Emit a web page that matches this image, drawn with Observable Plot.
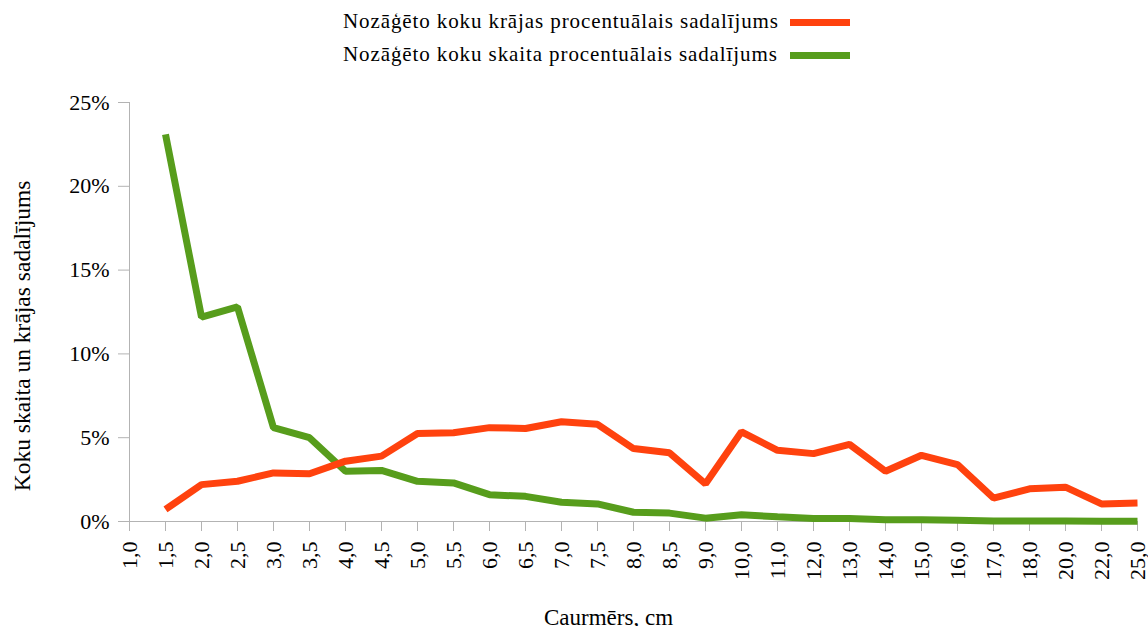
<!DOCTYPE html>
<html>
<head>
<meta charset="utf-8">
<script src="https://cdn.jsdelivr.net/npm/d3@7"></script>
<script src="https://cdn.jsdelivr.net/npm/@observablehq/plot@0.6"></script>
<style>
  html, body { margin: 0; padding: 0; background: #fff; }
  #wrap { position: relative; width: 1148px; height: 626px; overflow: hidden; font-family: "Liberation Serif", serif; }
  #legend { position: relative; height: 80px; }
  .lg-text { position: absolute; left: 343px; font-size: 21px; letter-spacing: 0.9px; color: #000; white-space: nowrap; line-height: 1; }
  .lg-sw { position: absolute; left: 790px; width: 60px; height: 7px; }
  #chart svg text { font-family: "Liberation Serif", serif; }
</style>
</head>
<body>
<div id="wrap">
  <div id="legend"></div>
  <div id="chart"></div>
</div>
<script>
const categories = ["1,0","1,5","2,0","2,5","3,0","3,5","4,0","4,5","5,0","5,5","6,0","6,5","7,0","7,5","8,0","8,5","9,0","10,0","11,0","12,0","13,0","14,0","15,0","16,0","17,0","18,0","20,0","22,0","25,0"];
const stockShare = [null,0.72,2.2,2.4,2.9,2.85,3.6,3.9,5.25,5.3,5.6,5.55,5.95,5.8,4.35,4.1,2.25,5.35,4.25,4.05,4.6,3.0,3.95,3.4,1.4,1.95,2.05,1.05,1.1];
const countShare = [null,23.1,12.2,12.8,5.6,5.0,3.0,3.05,2.4,2.3,1.6,1.5,1.15,1.05,0.55,0.5,0.2,0.4,0.28,0.18,0.18,0.1,0.1,0.07,0.03,0.03,0.03,0.01,0.01];
const yTicks = [0,5,10,15,20,25];
const seriesNames = ["Nozāģēto koku krājas procentuālais sadalījums","Nozāģēto koku skaita procentuālais sadalījums"];
const seriesColors = ["#ff420e","#579d1c"];
const xTitle = "Caurmērs, cm";
const yTitle = "Koku skaita un krājas sadalījums";

// legend
const legend = document.getElementById("legend");
seriesNames.forEach((name, i) => {
  const t = document.createElement("div");
  t.className = "lg-text";
  t.style.top = (11 + i * 33) + "px";
  t.textContent = name;
  legend.appendChild(t);
  const s = document.createElement("div");
  s.className = "lg-sw";
  s.style.top = (19 + i * 33) + "px";
  s.style.background = seriesColors[i];
  legend.appendChild(s);
});

const rows1 = categories.map((c, i) => ({cat: c, v: stockShare[i]}));
const rows2 = categories.map((c, i) => ({cat: c, v: countShare[i]}));

const grey = "#b3b3b3";
const ff = "Liberation Serif";
const chart = Plot.plot({
  width: 1148,
  height: 546,
  marginLeft: 129,
  marginRight: 11,
  marginTop: 22,
  marginBottom: 105,
  style: {fontFamily: ff, fontSize: "22px", color: "#000", background: "#fff", overflow: "visible"},
  x: {type: "point", domain: categories, padding: 0},
  y: {domain: [0, 25]},
  marks: [
    Plot.ruleY([0], {stroke: grey, strokeWidth: 1}),
    Plot.ruleX([categories[0]], {stroke: grey, strokeWidth: 1}),
    Plot.axisY({ticks: yTicks, tickFormat: d => d + "%", tickSize: 11, tickPadding: 9, stroke: grey, label: null, fontSize: 22, fontFamily: ff}),
    Plot.axisX({tickRotate: -90, tickSize: 10, tickPadding: 10, stroke: grey, label: null, fontSize: 22, fontFamily: ff}),
    Plot.line(rows2, {x: "cat", y: "v", stroke: seriesColors[1], strokeWidth: 7, strokeLinejoin: "miter", strokeLinecap: "butt"}),
    Plot.line(rows1, {x: "cat", y: "v", stroke: seriesColors[0], strokeWidth: 7, strokeLinejoin: "miter", strokeLinecap: "butt"}),
    Plot.text([xTitle], {frameAnchor: "bottom", textAnchor: "middle", lineAnchor: "top", dy: 87, dx: -25, fontSize: 23, fontFamily: ff}),
    Plot.text([yTitle], {frameAnchor: "left", textAnchor: "middle", lineAnchor: "middle", rotate: -90, dx: -107, dy: 24, fontSize: 23.5, fontFamily: ff})
  ]
});
document.getElementById("chart").appendChild(chart);
</script>
</body>
</html>
